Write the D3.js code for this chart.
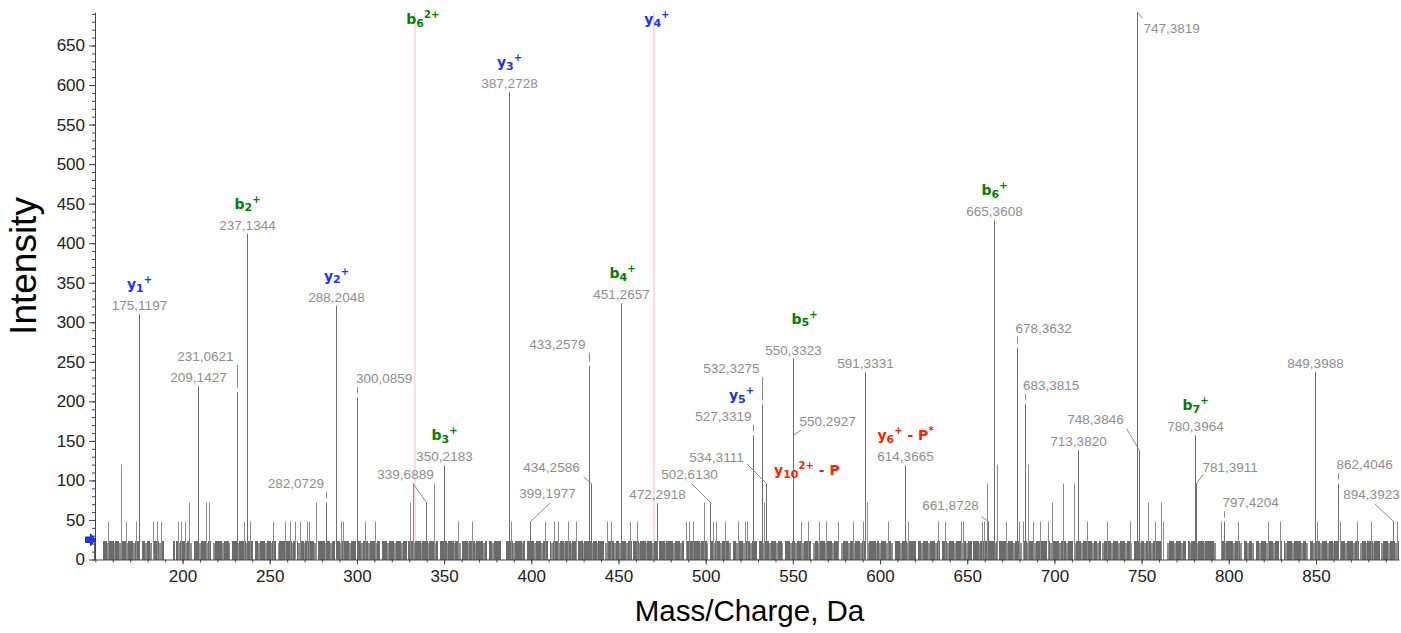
<!DOCTYPE html>
<html><head><meta charset="utf-8">
<script src="https://cdn.jsdelivr.net/npm/d3@7"></script>
<style>body{margin:0;background:#fff}svg{display:block}</style>
</head><body>
<svg id="c" width="1401" height="633"></svg>
<script>
// ---------------- data ----------------
const labeledMz  = [175.1197,209.1427,231.0621,237.1344,282.0729,288.2048,300.0859,339.6889,350.2183,387.2728,
                    399.1977,433.2579,434.2586,451.2657,472.2918,502.6130,527.3319,532.3275,534.3111,550.3323,
                    550.2927,591.3331,614.3665,661.8728,665.3608,678.3632,683.3815,713.3820,747.3819,748.3846,
                    780.3964,781.3911,797.4204,849.3988,862.4046,894.3923];
const labeledInt = [310,219,212,412,72,321,205,72,119,591,
                    48,245,96,324,71,72,157,196,96,254,
                    157,237,119,48,429,268,197,138,692,138,
                    157,96,48,237,96,48];

const minorMz  = [157.0,164.5,167.4,173.3,183.2,185.1,187.6,197.2,198.9,201.5,
                  203.5,213.2,215.3,235.0,238.8,251.7,258.7,261.6,264.4,267.3,
                  271.2,272.5,276.3,291.0,292.1,304.6,310.5,330.4,332.3,344.2,
                  357.7,365.8,388.3,407.8,413.0,415.1,421.2,425.4,443.5,445.6,
                  456.5,460.4,488.6,490.4,492.8,499.0,504.3,506.2,511.0,518.6,
                  522.5,523.8,533.5,550.0,554.6,558.4,565.1,568.9,576.0,584.6,
                  590.3,592.8,604.6,616.1,633.3,637.1,646.7,647.6,658.2,659.5,
                  661.1,666.8,672.5,679.8,682.0,684.6,687.8,691.6,696.4,698.4,
                  705.0,711.2,718.7,729.9,743.2,753.9,757.6,761.2,762.3,795.8,
                  805.3,822.5,829.6,850.6,863.6,873.5,881.8,896.3];
const minorInt = [48,120,48,48,48,48,48,48,48,48,
                  72,72,72,48,48,48,48,48,48,48,
                  48,48,72,48,48,48,48,72,96,96,
                  48,48,48,48,48,48,48,48,48,48,
                  48,48,48,48,48,72,48,48,48,48,
                  48,48,72,96,48,48,48,48,48,48,
                  48,72,48,48,48,48,48,48,48,48,
                  96,120,48,48,48,120,48,48,48,72,
                  96,96,48,48,48,72,48,72,48,48,
                  48,48,48,48,48,48,48,48];

// noise floor, one character per 1 Da starting at 150 Da ('4' = 24, '3' = 21, '0' = none)
const noiseStart = 150;
const noiseLevels =
  "4000044344" + "4344304434" + "4434440443" + "4430444344" + "0000040434" +
  "4434430444" + "3444344034" + "4443444304" + "4434444344" + "4044344434" +
  "4344034443" + "4443404344" + "3444443044" + "4434434404" + "4344443444" +
  "0443444344" + "4344044434" + "4434443440" + "4443444344" + "4344434044" +
  "4434443443" + "0444344434" + "4443404434" + "4440004444" + "3444434044" +
  "4434443444" + "0434443443" + "4443440444" + "3444434434" + "4403444434" +
  "4344434404" + "4434443444" + "3440444344" + "4434443404" + "4443444344" +
  "4304434443" + "4444304434" + "4434443444" + "0443444344" + "4344304443" +
  "4434443444" + "4034434443" + "4443444034" + "4434434443" + "4403444434" +
  "3444344304" + "4434443444" + "4044344434" + "4434404443" + "4443444344" +
  "3440444344" + "4434443404" + "4443444344" + "4304434443" + "4434440434" +
  "4443444344" + "4034443444" + "4434434034" + "4443444344" + "4344304443" +
  "4434443444" + "4400034443" + "4443440434" + "4434443444" + "4430004434" +
  "4443444304" + "4344304434" + "4434443440" + "4043444344" + "4434430443" +
  "4443444344" + "3440444344" + "4434403443" + "4443444034" + "44344434";
const noiseHeight = {"4": 24, "3": 21};

// fragment ion annotations
const ionBase   = ["y","b","y","b","y","b","y","b","y","y","b","b","b","y"];
const ionSub    = ["1","2","2","3","3","4","5","5","10","6","6","7","6","4"];
const ionCharge = ["+","+","+","+","+","+","+","+","2+","+","+","+","2+","+"];
const ionLoss   = ["","","","","","","","","-P","-P*","","","",""];
const ionMz     = [175.1197,237.1344,288.2048,350.2183,387.2728,451.2657,527.3319,550.3323,550.0,614.3665,
                   665.3608,780.3964,333.184,470.27];
const markerMz  = [333.184, 470.27];   // annotated positions without a detected peak

const xTicks = d3.range(200, 851, 50);
const yTicks = d3.range(0, 651, 50);
const thresholdInt = 25;

// ---------------- layout (pixel offsets, not data) ----------------
const labelLayout = {
  "231.0621": {anchor:"end",   dx:-4,  dy:-31,   leader:"v"},
  "282.0729": {anchor:"end",   dx:-2.5,dy:-15,   leader:"v"},
  "300.0859": {anchor:"start", dx:-1.5,dy:-14.3, leader:"v"},
  "339.6889": {anchor:"middle",dx:-21, dy:-24,   leader:[-13.5,-19]},
  "399.1977": {anchor:"middle",dx:17,  dy:-23.3, leader:[19.3,-18.3]},
  "433.2579": {anchor:"end",   dx:-4,  dy:-16.7, leader:"v"},
  "434.2586": {anchor:"middle",dx:-40, dy:-12,   leader:[-8,-7]},
  "502.6130": {anchor:"middle",dx:-21, dy:-23.7, leader:[-18.7,-18.7]},
  "527.3319": {anchor:"end",   dx:-2,  dy:-14.3, leader:"v"},
  "532.3275": {anchor:"end",   dx:-3,  dy:-31.3, leader:"v"},
  "534.3111": {anchor:"middle",dx:-50, dy:-22,   leader:[-19.5,-19.7]},
  "550.2927": {anchor:"start", dx:6,   dy:-9,    leader:[7.2,-5]},
  "661.8728": {anchor:"middle",dx:-38, dy:-11.7, leader:[-7,-5]},
  "678.3632": {anchor:"start", dx:-2,  dy:-15,   leader:"v"},
  "683.3815": {anchor:"start", dx:-2.5,dy:-13.7, leader:"v"},
  "747.3819": {anchor:"start", dx:6,   dy:20.5,  leader:[5,6]},
  "748.3846": {anchor:"middle",dx:-44, dy:-26.7, leader:[-13,-21.7]},
  "781.3911": {anchor:"start", dx:6,   dy:-11.7, leader:[6.7,-9.4]},
  "797.4204": {anchor:"start", dx:-2,  dy:-14.3, leader:"v"},
  "862.4046": {anchor:"start", dx:-2,  dy:-14.3, leader:"v"},
  "894.3923": {anchor:"middle",dx:-22, dy:-22.7, leader:[-18.6,-17.7]}
};
const defaultLabel = {anchor:"middle", dx:0, dy:-4, leader:null};
const ionLayout = {5:{dx:1,dy:-25}, 6:{dx:-12,dy:-35}, 7:{dx:11,dy:-35}, 8:{dx:13.4,dy:-8.3},
                   12:{dx:8,top:24}, 13:{dx:3,top:24}};
const defaultIon = {dx:0, dy:-25};
const ionColor = {b:"#008000", y:"#1a33ff", loss:"#ff2200"};
const noiseColor = {"4":"#6b6b6b", "3":"#8e8e8e"};

// ---------------- drawing ----------------
const svg = d3.select("#c");
const xs = d3.scaleLinear().domain([149.8, 897.6]).range([95, 1399]);
const ys = d3.scaleLinear().domain([0, d3.max(labeledInt)]).range([559.5, 12.3]);
const px = mz => Math.round(xs(mz)) + 0.5;

// marker lines
svg.append("g").selectAll("line").data(markerMz).join("line")
  .attr("x1", d => xs(d)).attr("x2", d => xs(d))
  .attr("y1", ys.range()[1]).attr("y2", ys(0))
  .attr("stroke", "#ffd8d8").attr("stroke-width", 2);

// noise floor
const noise = Array.from(noiseLevels).map((c, i) => ({mz: noiseStart + i, c, h: noiseHeight[c] || 0})).filter(d => d.h > 0);
const bw = xs(1) - xs(0);
svg.append("g").attr("shape-rendering", "crispEdges").selectAll("rect").data(noise).join("rect")
  .attr("x", d => xs(d.mz) - bw / 2).attr("width", bw)
  .attr("y", d => ys(d.h)).attr("height", d => ys(0) - ys(d.h))
  .attr("fill", d => noiseColor[d.c]);

// minor peaks
const minor = minorMz.map((m, i) => ({mz: m, v: minorInt[i]}));
svg.append("g").selectAll("line").data(minor).join("line")
  .attr("x1", d => px(d.mz)).attr("x2", d => px(d.mz))
  .attr("y1", ys(0)).attr("y2", d => ys(d.v))
  .attr("stroke", "#8c8c8c").attr("stroke-width", 1);

// labeled peaks
const peaks = labeledMz.map((m, i) => ({mz: m, v: labeledInt[i], L: labelLayout[m.toFixed(4)] || defaultLabel}));
svg.append("g").selectAll("line").data(peaks).join("line")
  .attr("x1", d => px(d.mz)).attr("x2", d => px(d.mz))
  .attr("y1", ys(0)).attr("y2", d => ys(d.v))
  .attr("stroke", "#6e6e6e").attr("stroke-width", 1);

// leaders
const lg = svg.append("g").attr("stroke", "#8a8a8a").attr("stroke-width", 1);
peaks.forEach(d => {
  const L = d.L; if (!L.leader) return;
  const x = px(d.mz), top = ys(d.v);
  if (L.leader === "v") {
    lg.append("line").attr("x1", x).attr("x2", x).attr("y1", top + L.dy + 4).attr("y2", top - 4);
  } else {
    lg.append("line").attr("x1", x + L.leader[0]).attr("y1", top + L.leader[1]).attr("x2", x).attr("y2", top);
  }
});

// m/z labels
const fmt = d3.format(".4f");
svg.append("g").attr("font-family", "'Liberation Sans', Arial, sans-serif").attr("font-size", 13.5).attr("fill", "#8e8e8e")
  .selectAll("text").data(peaks).join("text")
  .attr("x", d => px(d.mz) + d.L.dx).attr("y", d => ys(d.v) + d.L.dy)
  .attr("text-anchor", d => d.L.anchor)
  .text(d => fmt(d.mz).replace(".", ","));

// ion labels
const allPeaks = peaks.map(d => ({mz: d.mz, v: d.v})).concat(minor);
const ig = svg.append("g").attr("font-family", "'DejaVu Sans', Verdana, sans-serif").attr("font-weight", "bold");
ionMz.forEach((m, i) => {
  const lay = ionLayout[i] || defaultIon;
  let x, y;
  if (lay.top !== undefined) { x = xs(m) + lay.dx; y = lay.top; }
  else {
    const pk = allPeaks.reduce((a, b) => Math.abs(b.mz - m) < Math.abs(a.mz - m) ? b : a);
    x = px(m) + lay.dx; y = ys(pk.v) + lay.dy;
  }
  const color = ionLoss[i] ? ionColor.loss : ionColor[ionBase[i]];
  const t = ig.append("text").attr("x", x).attr("y", y).attr("text-anchor", "middle")
    .attr("fill", color).attr("font-size", 14).style("white-space", "pre");
  t.append("tspan").text(ionBase[i]);
  t.append("tspan").attr("font-size", 11).attr("dy", 2.5).text(ionSub[i]);
  t.append("tspan").attr("font-size", 10).attr("dy", -8.5).text(ionCharge[i]);
  if (ionLoss[i]) {
    t.append("tspan").attr("font-size", 14).attr("dy", 6).text(" - P");
    if (ionLoss[i].endsWith("*")) t.append("tspan").attr("font-size", 10).attr("dy", -6).text("*");
  }
});

// axes
const axFont = "'Liberation Sans', Arial, sans-serif";
const yAxis = svg.append("g").attr("transform", "translate(95,0)")
  .call(d3.axisLeft(ys).tickValues(yTicks).tickSize(6).tickSizeOuter(0).tickPadding(4));
svg.append("g").attr("transform", "translate(95,0)")
  .call(d3.axisLeft(ys).tickValues(d3.range(0, 692, 10)).tickSize(3).tickSizeOuter(0).tickFormat(""))
  .call(g => g.select(".domain").remove());
const xAxis = svg.append("g").attr("transform", "translate(0,559.5)")
  .call(d3.axisBottom(xs).tickValues(xTicks).tickSize(5).tickSizeOuter(0).tickPadding(5));
svg.append("g").attr("transform", "translate(0,559.5)")
  .call(d3.axisBottom(xs).tickValues(d3.range(150, 898, 10)).tickSize(3).tickSizeOuter(0).tickFormat(""))
  .call(g => g.select(".domain").remove());
[yAxis, xAxis].forEach(a => {
  a.selectAll("text").attr("font-family", axFont).attr("font-size", 17).attr("fill", "#222");
  a.selectAll("line,path").attr("stroke", "#444");
});
svg.selectAll(".tick line").attr("stroke", "#444");

// threshold arrow
svg.append("path").attr("transform", `translate(95.5,${ys(thresholdInt)})`)
  .attr("d", "M-10,-2.8 H-5 V-6 L0,0 L-5,6 V2.8 H-10 Z")
  .attr("fill", "#1a3cff").attr("stroke", "#0a1a80").attr("stroke-width", 0.8);

// axis titles
svg.append("text").attr("x", 749.5).attr("y", 621).attr("text-anchor", "middle")
  .attr("font-family", axFont).attr("font-size", 29.5).attr("fill", "#000").text("Mass/Charge, Da");
svg.append("text").attr("transform", "translate(36,266) rotate(-90)").attr("text-anchor", "middle")
  .attr("font-family", axFont).attr("font-size", 37).attr("fill", "#000").text("Intensity");
</script>
</body></html>
